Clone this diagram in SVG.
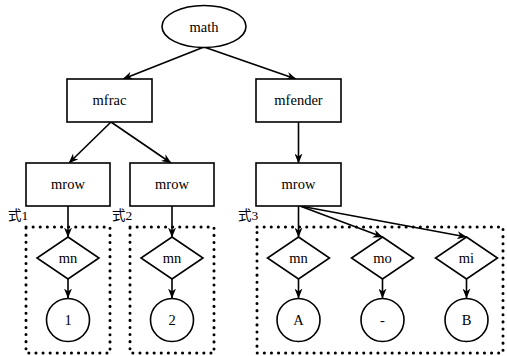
<svg xmlns="http://www.w3.org/2000/svg" width="507" height="356" viewBox="0 0 507 356">
<style>
.n{fill:#fff;stroke:#000;stroke-width:1.6}
.t{font-family:'Liberation Serif','DejaVu Serif',serif;font-size:14.5px;fill:#000;text-anchor:middle}
.lbl{font-family:'Liberation Serif','Noto Sans CJK JP',serif;font-size:13.5px;fill:#000}
.e{fill:none;stroke:#000;stroke-width:1.6;marker-end:url(#ah)}
.grp{fill:none;stroke:#000;stroke-width:3;stroke-dasharray:0.1 7;stroke-linecap:round}
</style>
<defs>
<marker id="ah" viewBox="0 0 10 8" refX="9.5" refY="4" markerWidth="10" markerHeight="8" markerUnits="userSpaceOnUse" orient="auto">
<path d="M0,0 L10,4 L0,8 L3,4 Z" fill="#000"/>
</marker>
</defs>
<g id="groups">
<rect class="grp" x="26" y="227" width="84" height="126"/>
<rect class="grp" x="130" y="227" width="84" height="126"/>
<rect class="grp" x="257" y="227" width="246" height="126"/>
<text class="lbl" x="8" y="220">式1</text>
<text class="lbl" x="112" y="220">式2</text>
<text class="lbl" x="238" y="220">式3</text>
</g>
<g id="connectors">
<line class="e" x1="204" y1="47" x2="123" y2="79"/>
<line class="e" x1="204" y1="47" x2="296" y2="79"/>
<line class="e" x1="111" y1="122" x2="69" y2="163"/>
<line class="e" x1="111" y1="122" x2="171" y2="163"/>
<line class="e" x1="298.5" y1="122" x2="298.5" y2="163"/>
<line class="e" x1="68" y1="206" x2="68" y2="237"/>
<line class="e" x1="172" y1="206" x2="172" y2="237"/>
<line class="e" x1="298.5" y1="206" x2="298.5" y2="237"/>
<line class="e" x1="300" y1="206" x2="382.5" y2="237"/>
<line class="e" x1="300" y1="206" x2="466.5" y2="237"/>
<line class="e" x1="68" y1="279" x2="68" y2="298"/>
<line class="e" x1="172" y1="279" x2="172" y2="298"/>
<line class="e" x1="298.5" y1="279" x2="298.5" y2="298"/>
<line class="e" x1="382.5" y1="279" x2="382.5" y2="298"/>
<line class="e" x1="466.5" y1="279" x2="466.5" y2="298"/>
</g>
<g id="math"><ellipse class="n" cx="204" cy="26.5" rx="42" ry="21"/><text class="t" x="204" y="31.5">math</text></g>
<g id="mfrac"><rect class="n" x="67" y="79" width="85" height="43"/><text class="t" x="109.5" y="105">mfrac</text></g>
<g id="mfender"><rect class="n" x="256" y="79" width="85" height="43"/><text class="t" x="298.5" y="105">mfender</text></g>
<g id="mrow1"><rect class="n" x="26" y="163" width="84" height="43"/><text class="t" x="68" y="189">mrow</text></g>
<g id="mrow2"><rect class="n" x="130" y="163" width="84" height="43"/><text class="t" x="172" y="189">mrow</text></g>
<g id="mrow3"><rect class="n" x="256" y="163" width="85" height="43"/><text class="t" x="298.5" y="189">mrow</text></g>
<g id="mn1"><polygon class="n" points="68,237 99,258 68,279 37,258"/><text class="t" x="68" y="263">mn</text></g>
<g id="mn2"><polygon class="n" points="172,237 203,258 172,279 141,258"/><text class="t" x="172" y="263">mn</text></g>
<g id="mn3"><polygon class="n" points="298.5,237 329.5,258 298.5,279 267.5,258"/><text class="t" x="298.5" y="263">mn</text></g>
<g id="mo"><polygon class="n" points="382.5,237 413.5,258 382.5,279 351.5,258"/><text class="t" x="382.5" y="263">mo</text></g>
<g id="mi"><polygon class="n" points="466.5,237 497.5,258 466.5,279 435.5,258"/><text class="t" x="466.5" y="263">mi</text></g>
<g id="c1"><circle class="n" cx="68" cy="320" r="21.5"/><text class="t" x="68" y="325">1</text></g>
<g id="c2"><circle class="n" cx="172" cy="320" r="21.5"/><text class="t" x="172" y="325">2</text></g>
<g id="cA"><circle class="n" cx="298.5" cy="320" r="21.5"/><text class="t" x="298.5" y="325">A</text></g>
<g id="cminus"><circle class="n" cx="382.5" cy="320" r="21.5"/><text class="t" x="382.5" y="325">-</text></g>
<g id="cB"><circle class="n" cx="466.5" cy="320" r="21.5"/><text class="t" x="466.5" y="325">B</text></g>
</svg>
